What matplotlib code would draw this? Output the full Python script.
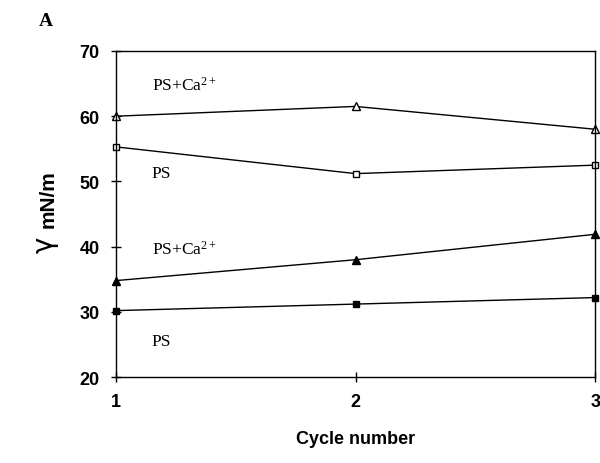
import matplotlib
matplotlib.use("Agg")
import matplotlib.pyplot as plt

plt.rcParams["mathtext.fontset"] = "custom"
plt.rcParams["mathtext.rm"] = "Liberation Serif"
plt.rcParams["mathtext.it"] = "Liberation Serif"

cycles = [1, 2, 3]
ps_ca_open = [60.0, 61.5, 58.0]
ps_open = [55.3, 51.2, 52.5]
ps_ca_filled = [34.8, 38.0, 41.9]
ps_filled = [30.2, 31.2, 32.2]

fig = plt.figure(figsize=(6, 4.64), dpi=100)
ax = fig.add_axes([0.193, 0.185, 0.799, 0.703])

ax.plot(cycles, ps_ca_open, color="black", lw=1, marker="^", ms=6,
        mfc="white", mec="black", clip_on=False)
ax.plot(cycles, ps_open, color="black", lw=1, marker="s", ms=5,
        mfc="white", mec="black", clip_on=False)
ax.plot(cycles, ps_ca_filled, color="black", lw=1, marker="^", ms=6,
        mfc="black", mec="black", clip_on=False)
ax.plot(cycles, ps_filled, color="black", lw=1, marker="s", ms=5,
        mfc="black", mec="black", clip_on=False)

serif = "Liberation Serif"
ax.text(1.15, 64.0, r"PS+Ca$^{\mathrm{2+}}$", family=serif, fontsize=12.5)
ax.text(1.15, 50.7, "PS", family=serif, fontsize=12.5)
ax.text(1.15, 38.9, r"PS+Ca$^{\mathrm{2+}}$", family=serif, fontsize=12.5)
ax.text(1.15, 25.0, "PS", family=serif, fontsize=12.5)

ax.set_xlim(1, 3)
ax.set_ylim(20, 70)
ax.set_xticks([1, 2, 3])
ax.set_yticks([20, 30, 40, 50, 60, 70])
ax.tick_params(direction="inout", length=7, width=1, labelsize=13, pad=8)
for lab in ax.get_xticklabels() + ax.get_yticklabels():
    lab.set_family("Liberation Sans")
    lab.set_fontweight("bold")
for sp in ax.spines.values():
    sp.set_linewidth(1)

ax.set_xlabel("Cycle number", family="Liberation Sans", fontweight="bold",
              fontsize=13, labelpad=14)

# y label: large gamma plus bold units
fig.text(0.075, 0.472, "γ", family="DejaVu Sans", fontsize=20,
         rotation=90, ha="center", va="center")
fig.text(0.081, 0.571, "mN/m", family="Liberation Sans", fontweight="bold",
         fontsize=15, rotation=90, ha="center", va="center")

fig.text(0.065, 0.945, "A", family=serif, fontweight="bold", fontsize=14)

plt.savefig("out.png", dpi=100)
